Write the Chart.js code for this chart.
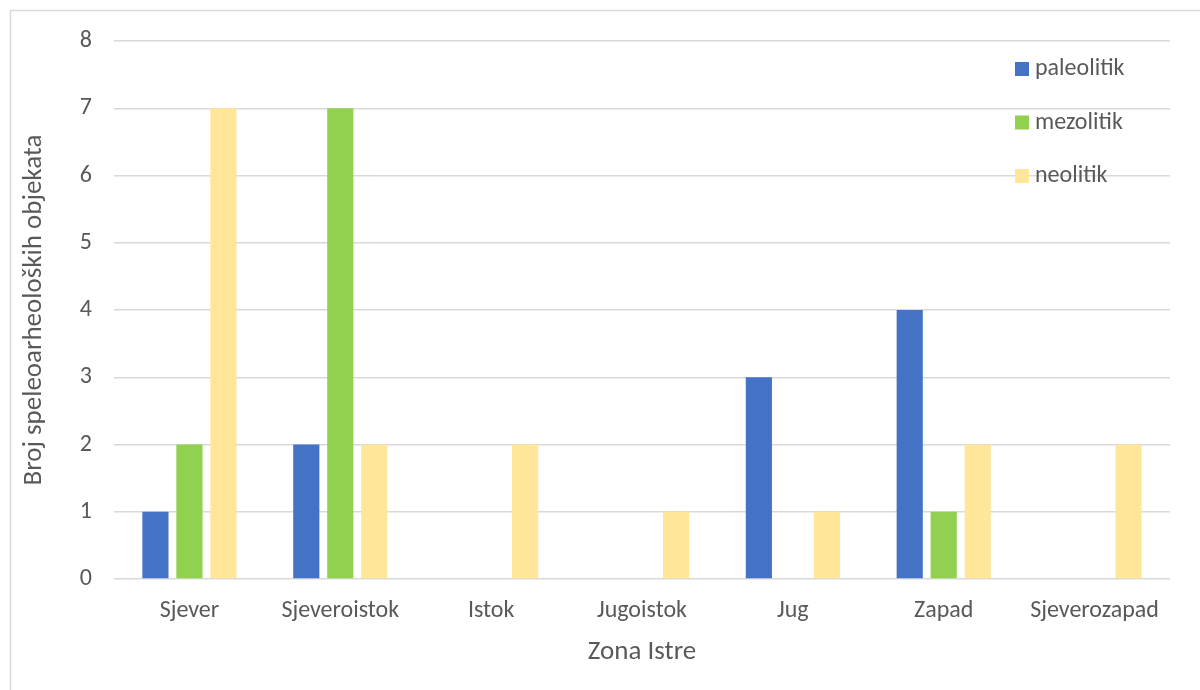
<!DOCTYPE html>
<html>
<head>
<meta charset="utf-8">
<script src="https://cdn.jsdelivr.net/npm/chart.js@4"></script>
<style>
  body { margin: 0; background: #fff; }
  #wrap { width: 1200px; height: 690px; }
</style>
</head>
<body>
<div id="wrap"><canvas id="chart"></canvas></div>
<script>
// data
var zones = ['Sjever', 'Sjeveroistok', 'Istok', 'Jugoistok', 'Jug', 'Zapad', 'Sjeverozapad'];
var paleolitik = [1, 2, 0, 0, 3, 4, 0];
var mezolitik = [2, 7, 0, 0, 0, 1, 0];
var neolitik = [7, 2, 2, 1, 1, 2, 2];

var textColor = '#595959';
var gridColor = '#d9d9d9';
var font = 'Calibri, Carlito, "Open Sans", sans-serif';

// frame + legend drawn by hand
var framePlugin = {
    id: 'frame',
    beforeDraw: function (chart) {
        var c = chart.ctx;
        c.save();
        c.fillStyle = '#fff';
        c.fillRect(0, 0, chart.width, chart.height);
        c.strokeStyle = '#d9d9d9';
        c.lineWidth = 1.5;
        c.strokeRect(10.5, 10.5, 1300, 800);
        c.restore();
    },
    afterDraw: function (chart) {
        var c = chart.ctx;
        c.save();
        c.font = '24px ' + font;
        c.textBaseline = 'middle';
        chart.data.datasets.forEach(function (ds, i) {
            var y = 69 + i * 53.5;
            c.fillStyle = ds.backgroundColor;
            c.fillRect(1015, y - 7, 14, 14);
            c.fillStyle = textColor;
            c.fillText(ds.label, 1035, y);
        });
        c.restore();
    }
};

var ctx = document.getElementById('chart');
new Chart(ctx, {
    type: 'bar',
    data: {
        labels: zones,
        datasets: [
            { label: 'paleolitik', data: paleolitik, backgroundColor: '#4472C4' },
            { label: 'mezolitik', data: mezolitik, backgroundColor: '#92D050' },
            { label: 'neolitik', data: neolitik, backgroundColor: '#FFE699' }
        ]
    },
    options: {
        responsive: true,
        maintainAspectRatio: false,
        animation: false,
        datasets: {
            bar: { categoryPercentage: 0.676, barPercentage: 0.77 }
        },
        layout: { padding: { top: 41, right: 30, bottom: 0, left: 0 } },
        plugins: {
            legend: { display: false },
            tooltip: { enabled: false }
        },
        scales: {
            x: {
                afterFit: function (scale) { scale.height = 111; },
                grid: { display: false },
                border: { display: false },
                ticks: { color: textColor, font: { size: 24, family: font }, padding: 10 },
                title: { display: true, text: 'Zona Istre', color: textColor, font: { size: 27, family: font }, padding: { top: 4, bottom: 22 } }
            },
            y: {
                min: 0,
                max: 8,
                afterFit: function (scale) { scale.width = 114; },
                grid: { color: gridColor, lineWidth: 1.5, drawTicks: false },
                border: { display: false },
                ticks: { stepSize: 1, color: textColor, font: { size: 24, family: font }, padding: 22 },
                title: { display: true, text: 'Broj speleoarheoloških objekata', color: textColor, font: { size: 27, family: font }, padding: { top: 18 } }
            }
        }
    },
    plugins: [framePlugin]
});
</script>
</body>
</html>
